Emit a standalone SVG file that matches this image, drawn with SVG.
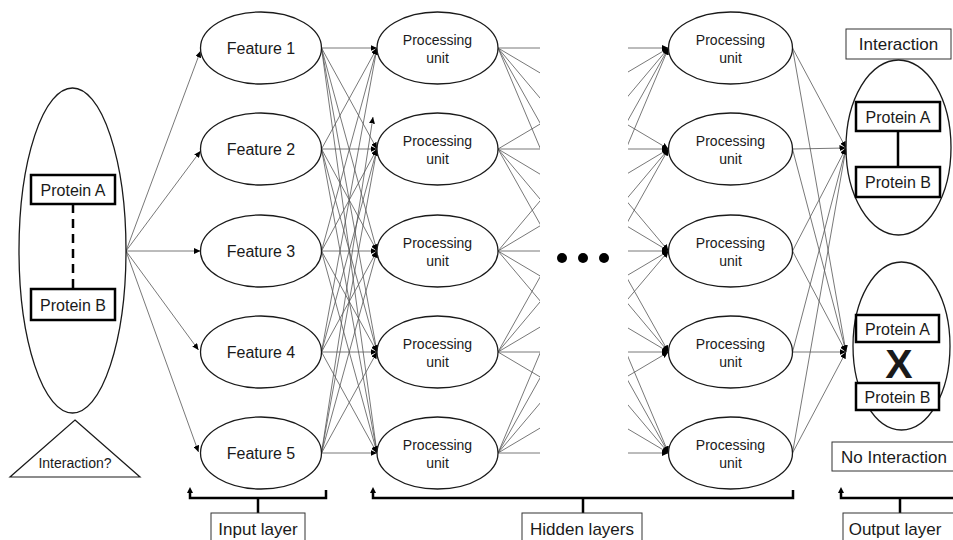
<svg xmlns="http://www.w3.org/2000/svg" width="953" height="540" viewBox="0 0 953 540">
  <style>
    .node { fill: #fff; stroke: #1a1a1a; stroke-width: 1.3; }
    .lbl { font-family: "Liberation Sans", Arial, sans-serif; fill: #1a1a1a; text-anchor: middle; }
    .f16 { font-size: 16px; }
    .f14 { font-size: 14px; }
    .f17 { font-size: 17px; }
    .pbox { fill: #fff; stroke: #000; stroke-width: 2.5; }
    .tbox { fill: #fff; stroke: #333; stroke-width: 1; }
    .edge { stroke: #555; stroke-width: 0.8; fill: none; marker-end: url(#tip); }
    .brace { stroke: #000; stroke-width: 2.5; fill: none; }
  </style>
  <defs>
    <marker id="tip" markerUnits="userSpaceOnUse" markerWidth="7" markerHeight="6" refX="6.5" refY="3" orient="auto">
      <path d="M0,0 L6.5,3 L0,6 z" fill="#000"/>
    </marker>
    <clipPath id="gap">
      <rect x="0" y="0" width="540" height="540"/>
      <rect x="628" y="0" width="325" height="540"/>
    </clipPath>
  </defs>
  <rect width="953" height="540" fill="#fff"/>

  <!-- connectors -->
  <g id="connectors">
    <!-- pair to features -->
    <line class="edge" x1="126" y1="251" x2="200.5" y2="51"/>
    <line class="edge" x1="126" y1="251" x2="200.5" y2="151"/>
    <line class="edge" x1="126" y1="251" x2="200.5" y2="251"/>
    <line class="edge" x1="126" y1="251" x2="198.5" y2="350"/>
    <line class="edge" x1="126" y1="251" x2="198.5" y2="452"/>
    <!-- features to first hidden layer -->
    <line class="edge" x1="321.5" y1="48" x2="377" y2="48"/>
    <line class="edge" x1="321.5" y1="48" x2="377" y2="149"/>
    <line class="edge" x1="321.5" y1="48" x2="377" y2="251"/>
    <line class="edge" x1="321.5" y1="48" x2="377" y2="352"/>
    <line class="edge" x1="321.5" y1="48" x2="377" y2="453"/>
    <line class="edge" x1="321.5" y1="149" x2="377" y2="48"/>
    <line class="edge" x1="321.5" y1="149" x2="377" y2="149"/>
    <line class="edge" x1="321.5" y1="149" x2="377" y2="251"/>
    <line class="edge" x1="321.5" y1="149" x2="377" y2="352"/>
    <line class="edge" x1="321.5" y1="149" x2="377" y2="453"/>
    <line class="edge" x1="321.5" y1="251" x2="377" y2="48"/>
    <line class="edge" x1="321.5" y1="251" x2="377" y2="149"/>
    <line class="edge" x1="321.5" y1="251" x2="377" y2="251"/>
    <line class="edge" x1="321.5" y1="251" x2="377" y2="352"/>
    <line class="edge" x1="321.5" y1="251" x2="377" y2="453"/>
    <line class="edge" x1="321.5" y1="352" x2="377" y2="48"/>
    <line class="edge" x1="321.5" y1="352" x2="377" y2="149"/>
    <line class="edge" x1="321.5" y1="352" x2="377" y2="251"/>
    <line class="edge" x1="321.5" y1="352" x2="377" y2="352"/>
    <line class="edge" x1="321.5" y1="352" x2="377" y2="453"/>
    <line class="edge" x1="321.5" y1="453" x2="373" y2="117"/>
    <line class="edge" x1="321.5" y1="453" x2="377" y2="149"/>
    <line class="edge" x1="321.5" y1="453" x2="377" y2="251"/>
    <line class="edge" x1="321.5" y1="453" x2="377" y2="352"/>
    <line class="edge" x1="321.5" y1="453" x2="377" y2="453"/>
    <!-- first hidden layer to last hidden layer, elided in the middle -->
    <g clip-path="url(#gap)">
      <line class="edge" x1="498" y1="48" x2="668.5" y2="48"/>
      <line class="edge" x1="498" y1="48" x2="668.5" y2="149"/>
      <line class="edge" x1="498" y1="48" x2="668.5" y2="251"/>
      <line class="edge" x1="498" y1="48" x2="668.5" y2="352"/>
      <line class="edge" x1="498" y1="48" x2="668.5" y2="453"/>
      <line class="edge" x1="498" y1="149" x2="668.5" y2="48"/>
      <line class="edge" x1="498" y1="149" x2="668.5" y2="149"/>
      <line class="edge" x1="498" y1="149" x2="668.5" y2="251"/>
      <line class="edge" x1="498" y1="149" x2="668.5" y2="352"/>
      <line class="edge" x1="498" y1="149" x2="668.5" y2="453"/>
      <line class="edge" x1="498" y1="251" x2="668.5" y2="48"/>
      <line class="edge" x1="498" y1="251" x2="668.5" y2="149"/>
      <line class="edge" x1="498" y1="251" x2="668.5" y2="251"/>
      <line class="edge" x1="498" y1="251" x2="668.5" y2="352"/>
      <line class="edge" x1="498" y1="251" x2="668.5" y2="453"/>
      <line class="edge" x1="498" y1="352" x2="668.5" y2="48"/>
      <line class="edge" x1="498" y1="352" x2="668.5" y2="149"/>
      <line class="edge" x1="498" y1="352" x2="668.5" y2="251"/>
      <line class="edge" x1="498" y1="352" x2="668.5" y2="352"/>
      <line class="edge" x1="498" y1="352" x2="668.5" y2="453"/>
      <line class="edge" x1="498" y1="453" x2="668.5" y2="48"/>
      <line class="edge" x1="498" y1="453" x2="668.5" y2="149"/>
      <line class="edge" x1="498" y1="453" x2="668.5" y2="251"/>
      <line class="edge" x1="498" y1="453" x2="668.5" y2="352"/>
      <line class="edge" x1="498" y1="453" x2="668.5" y2="453"/>
    </g>
    <!-- last hidden layer to outputs -->
    <line class="edge" x1="792.5" y1="48" x2="846" y2="148"/>
    <line class="edge" x1="792.5" y1="48" x2="846" y2="352"/>
    <line class="edge" x1="792.5" y1="149" x2="846" y2="148"/>
    <line class="edge" x1="792.5" y1="149" x2="846" y2="352"/>
    <line class="edge" x1="792.5" y1="251" x2="846" y2="148"/>
    <line class="edge" x1="792.5" y1="251" x2="846" y2="352"/>
    <line class="edge" x1="792.5" y1="352" x2="846" y2="148"/>
    <line class="edge" x1="792.5" y1="352" x2="846" y2="352"/>
    <line class="edge" x1="792.5" y1="453" x2="846" y2="148"/>
    <line class="edge" x1="792.5" y1="453" x2="846" y2="352"/>
  </g>

  <!-- input protein pair -->
  <g id="pair">
    <ellipse class="node" cx="72.5" cy="250.5" rx="53.5" ry="162.5"/>
    <line x1="73" y1="204" x2="73" y2="289" stroke="#000" stroke-width="2.5" stroke-dasharray="9,6"/>
    <rect class="pbox" x="31" y="175" width="84" height="29"/>
    <text class="lbl f16" x="73" y="195.5">Protein A</text>
    <rect class="pbox" x="31" y="289" width="84" height="31"/>
    <text class="lbl f16" x="73" y="310.5">Protein B</text>
  </g>
  <g id="question">
    <polygon points="75,420 140,477 10,477" fill="#fff" stroke="#1a1a1a" stroke-width="1.2"/>
    <text class="lbl f14" x="75" y="468">Interaction?</text>
  </g>

  <!-- input layer -->
  <g id="feature1"><ellipse class="node" cx="261" cy="48" rx="60.5" ry="36"/><text class="lbl f16" x="261" y="54">Feature 1</text></g>
  <g id="feature2"><ellipse class="node" cx="261" cy="149" rx="60.5" ry="36"/><text class="lbl f16" x="261" y="155">Feature 2</text></g>
  <g id="feature3"><ellipse class="node" cx="261" cy="251" rx="60.5" ry="36"/><text class="lbl f16" x="261" y="257">Feature 3</text></g>
  <g id="feature4"><ellipse class="node" cx="261" cy="352" rx="60.5" ry="36"/><text class="lbl f16" x="261" y="358">Feature 4</text></g>
  <g id="feature5"><ellipse class="node" cx="261" cy="453" rx="60.5" ry="36"/><text class="lbl f16" x="261" y="459">Feature 5</text></g>

  <!-- first hidden layer -->
  <g id="h1u1"><ellipse class="node" cx="437.5" cy="48" rx="60.5" ry="36"/><text class="lbl f14" x="437.5" y="45">Processing</text><text class="lbl f14" x="437.5" y="63">unit</text></g>
  <g id="h1u2"><ellipse class="node" cx="437.5" cy="149" rx="60.5" ry="36"/><text class="lbl f14" x="437.5" y="146">Processing</text><text class="lbl f14" x="437.5" y="164">unit</text></g>
  <g id="h1u3"><ellipse class="node" cx="437.5" cy="251" rx="60.5" ry="36"/><text class="lbl f14" x="437.5" y="248">Processing</text><text class="lbl f14" x="437.5" y="266">unit</text></g>
  <g id="h1u4"><ellipse class="node" cx="437.5" cy="352" rx="60.5" ry="36"/><text class="lbl f14" x="437.5" y="349">Processing</text><text class="lbl f14" x="437.5" y="367">unit</text></g>
  <g id="h1u5"><ellipse class="node" cx="437.5" cy="453" rx="60.5" ry="36"/><text class="lbl f14" x="437.5" y="450">Processing</text><text class="lbl f14" x="437.5" y="468">unit</text></g>

  <!-- elided hidden layers -->
  <g id="ellipsis" fill="#000">
    <circle cx="562" cy="258" r="5"/>
    <circle cx="583" cy="258" r="5"/>
    <circle cx="604" cy="258" r="5"/>
  </g>

  <!-- last hidden layer -->
  <g id="h2u1"><ellipse class="node" cx="730.5" cy="48" rx="62" ry="36"/><text class="lbl f14" x="730.5" y="45">Processing</text><text class="lbl f14" x="730.5" y="63">unit</text></g>
  <g id="h2u2"><ellipse class="node" cx="730.5" cy="149" rx="62" ry="36"/><text class="lbl f14" x="730.5" y="146">Processing</text><text class="lbl f14" x="730.5" y="164">unit</text></g>
  <g id="h2u3"><ellipse class="node" cx="730.5" cy="251" rx="62" ry="36"/><text class="lbl f14" x="730.5" y="248">Processing</text><text class="lbl f14" x="730.5" y="266">unit</text></g>
  <g id="h2u4"><ellipse class="node" cx="730.5" cy="352" rx="62" ry="36"/><text class="lbl f14" x="730.5" y="349">Processing</text><text class="lbl f14" x="730.5" y="367">unit</text></g>
  <g id="h2u5"><ellipse class="node" cx="730.5" cy="453" rx="62" ry="36"/><text class="lbl f14" x="730.5" y="450">Processing</text><text class="lbl f14" x="730.5" y="468">unit</text></g>

  <!-- output: interaction -->
  <g id="out-yes">
    <rect class="tbox" x="846" y="29" width="105" height="30"/>
    <text class="lbl f17" x="898.5" y="50">Interaction</text>
    <ellipse class="node" cx="898.5" cy="147.5" rx="52.5" ry="87.5"/>
    <line x1="898" y1="131" x2="898" y2="167" stroke="#000" stroke-width="2.5"/>
    <rect class="pbox" x="856" y="102" width="84" height="29"/>
    <text class="lbl f16" x="898" y="122.5">Protein A</text>
    <rect class="pbox" x="856" y="167" width="84" height="30"/>
    <text class="lbl f16" x="898" y="188">Protein B</text>
  </g>

  <!-- output: no interaction -->
  <g id="out-no">
    <ellipse class="node" cx="901.5" cy="346" rx="48.5" ry="84"/>
    <rect class="pbox" x="856" y="315" width="83" height="27"/>
    <text class="lbl f16" x="897.5" y="334.5">Protein A</text>
    <rect class="pbox" x="856" y="383" width="83" height="27"/>
    <text class="lbl f16" x="897.5" y="402.5">Protein B</text>
    <text class="lbl" x="899" y="378" font-size="41" font-weight="bold">X</text>
    <rect class="tbox" x="832" y="442" width="122" height="29"/>
    <text class="lbl f17" x="894" y="463">No Interaction</text>
  </g>

  <!-- layer braces -->
  <g id="brace-input">
    <path class="brace" d="M190,493 V498 H326 V490 M258,498 V513"/>
    <polygon points="190,487 187,493 193,493" fill="#000"/>
    <rect class="tbox" x="211" y="513" width="94" height="30"/>
    <text class="lbl f17" x="258" y="535">Input layer</text>
  </g>
  <g id="brace-hidden">
    <path class="brace" d="M373,493 V498 H793 V490 M583,498 V513"/>
    <polygon points="373,487 370,493 376,493" fill="#000"/>
    <rect class="tbox" x="522" y="513" width="120" height="30"/>
    <text class="lbl f17" x="582" y="535">Hidden layers</text>
  </g>
  <g id="brace-output">
    <path class="brace" d="M841,493 V498 H960 M900,498 V513"/>
    <polygon points="841,487 838,493 844,493" fill="#000"/>
    <rect class="tbox" x="843" y="513" width="115" height="30"/>
    <text class="lbl f17" x="895" y="535">Output layer</text>
  </g>
</svg>
